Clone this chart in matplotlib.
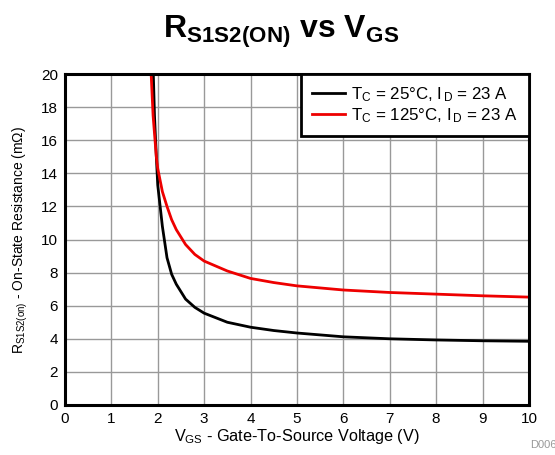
import matplotlib
matplotlib.use('Agg')
import matplotlib.pyplot as plt
import numpy as np

plt.rcParams['font.family'] = ['Liberation Sans', 'DejaVu Sans']
plt.rcParams['mathtext.fontset'] = 'custom'
plt.rcParams['mathtext.rm'] = 'Liberation Sans'
plt.rcParams['mathtext.it'] = 'Liberation Sans'
plt.rcParams['mathtext.bf'] = 'Liberation Sans:bold'

# curve data
vgs_25 = [1.90, 1.93, 1.97, 2.0, 2.1, 2.2, 2.3, 2.4, 2.6, 2.8, 3.0, 3.5, 4.0, 4.5, 5.0, 6.0, 7.0, 8.0, 9.0, 10.0]
rds_25 = [20.5, 17.5, 15.0, 13.3, 10.8, 8.9, 7.9, 7.3, 6.4, 5.9, 5.55, 5.0, 4.7, 4.5, 4.35, 4.12, 4.0, 3.93, 3.88, 3.85]
vgs_125 = [1.85, 1.9, 1.97, 2.0, 2.1, 2.2, 2.3, 2.4, 2.6, 2.8, 3.0, 3.5, 4.0, 4.5, 5.0, 6.0, 7.0, 8.0, 9.0, 10.0]
rds_125 = [20.5, 17.5, 15.0, 14.3, 12.9, 12.0, 11.2, 10.6, 9.7, 9.1, 8.7, 8.1, 7.65, 7.4, 7.2, 6.95, 6.8, 6.7, 6.6, 6.52]

fig = plt.figure(figsize=(5.55, 4.55), dpi=100)
ax = fig.add_axes([0.117, 0.110, 0.836, 0.727])

ax.plot(vgs_25, rds_25, color='black', lw=2, label=r'T$_\mathrm{C}$ = 25°C, I$_\mathrm{\,D}$ = 23 A')
ax.plot(vgs_125, rds_125, color='#ee0000', lw=2, label=r'T$_\mathrm{C}$ = 125°C, I$_\mathrm{\,D}$ = 23 A')

ax.set_xlim(0, 10)
ax.set_ylim(0, 20)
ax.set_xticks(np.arange(0, 11, 1))
ax.set_yticks(np.arange(0, 21, 2))
ax.tick_params(length=0, labelsize=11, pad=5)
ax.grid(True, color='#999999', lw=1)
for s in ax.spines.values():
    s.set_linewidth(2.2)

ax.set_xlabel(r'V$_\mathrm{GS}$ - Gate-To-Source Voltage (V)', fontsize=11.7, labelpad=1)
ax.set_ylabel(r'R$_\mathrm{S1S2(on)}$ - On-State Resistance (m$\Omega$)', fontsize=10, labelpad=8)

leg = ax.legend(loc='upper right', borderaxespad=0, fancybox=False, fontsize=12.2,
                handlelength=1.9, handletextpad=0.4, framealpha=1, borderpad=0.65,
                labelspacing=0.15)
leg.get_frame().set_edgecolor('black')
leg.get_frame().set_linewidth(2)

fig.text(0.507, 0.93, r'$\mathbf{R_{S1S2(ON)}\ vs\ V_{GS}}$', fontsize=23, ha='center', va='center')
fig.text(0.955, 0.01, 'D006', fontsize=8, color='#999999', ha='left', va='bottom')

plt.savefig('out.png', dpi=100)
